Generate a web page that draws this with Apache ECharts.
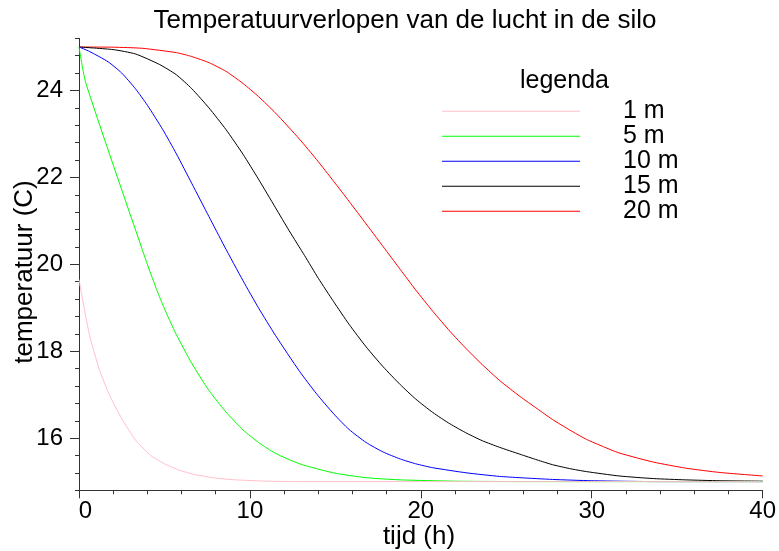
<!DOCTYPE html>
<html><head><meta charset="utf-8">
<script src="https://cdn.jsdelivr.net/npm/echarts@6/dist/echarts.min.js"></script>
<style>html,body{margin:0;padding:0;background:#fff}#c{width:779px;height:551px}</style>
</head><body><div id="c"></div>
<script>
// Data: time (h) and temperature (C) per depth
var names = ['1 m', '5 m', '10 m', '15 m', '20 m'];
var colors = ['#ffc0cb', '#00ff00', '#0000ff', '#000000', '#ff0000'];

var t1 = [0, 0.6, 1.2, 1.8, 2.5, 3.3, 4.2, 5.1, 5.9, 6.8, 8, 9.2, 11, 13, 40];
var v1 = [19.65, 18.4, 17.57, 16.98, 16.45, 15.96, 15.6, 15.39, 15.26, 15.16, 15.08, 15.04, 15.01, 15.0, 15.0];

var t5 = [0, 0.4, 3.7, 4.2, 4.7, 5.2, 5.7, 6.6, 7.6, 8.6, 9.6, 10.5, 11.5, 12.9, 14.9, 16.8, 18.8, 22, 26, 40];
var v5 = [25, 24.17, 20.34, 19.78, 19.26, 18.8, 18.38, 17.72, 17.1, 16.6, 16.19, 15.9, 15.65, 15.41, 15.2, 15.09, 15.04, 15.01, 15.0, 15.0];

var t10 = [0, 0.6, 1.7, 2.5, 3.3, 4, 4.9, 5.7, 6.6, 7.6, 8.5, 9.6, 10.5, 11.5, 12.9, 13.9, 14.9, 15.8, 16.8, 17.8, 18.8, 19.7, 20.7, 22.7, 24.6, 25.8, 27.7, 30, 34, 40];
var v10 = [25, 24.9, 24.66, 24.4, 24.04, 23.66, 23.1, 22.54, 21.86, 21.1, 20.42, 19.62, 19.0, 18.36, 17.54, 17.02, 16.56, 16.2, 15.9, 15.68, 15.52, 15.41, 15.32, 15.2, 15.12, 15.09, 15.05, 15.02, 15.0, 15.0];

var t15 = [0, 2, 3.3, 4.7, 5.7, 6.6, 7.6, 8.6, 9.6, 10.5, 11.5, 12.3, 13.2, 14, 14.9, 15.8, 16.8, 17.8, 18.8, 19.7, 20.7, 21.7, 22.7, 23.6, 24.6, 25.8, 26.8, 27.7, 28.7, 29.7, 31.6, 33.6, 35.5, 37.5, 40];
var v15 = [25, 24.94, 24.84, 24.6, 24.36, 24.04, 23.6, 23.1, 22.53, 21.96, 21.3, 20.77, 20.2, 19.68, 19.14, 18.62, 18.1, 17.64, 17.23, 16.9, 16.59, 16.33, 16.11, 15.94, 15.79, 15.63, 15.5, 15.39, 15.3, 15.23, 15.13, 15.07, 15.04, 15.02, 15.01];

var t20 = [0, 2, 3.7, 5.7, 6.6, 7.6, 8.6, 9.6, 10.5, 11.5, 12.9, 13.9, 14.9, 15.8, 16.8, 18, 18.8, 19.7, 20.7, 21.7, 22.7, 23.6, 24.6, 25.8, 26.8, 27.7, 28.7, 29.7, 30.7, 31.6, 33.6, 35.5, 37.5, 40];
var v20 = [25, 24.995, 24.97, 24.87, 24.78, 24.64, 24.44, 24.16, 23.86, 23.48, 22.88, 22.41, 21.91, 21.45, 20.93, 20.3, 19.88, 19.41, 18.92, 18.46, 18.04, 17.69, 17.33, 16.96, 16.68, 16.43, 16.19, 15.97, 15.8, 15.66, 15.45, 15.31, 15.21, 15.13];

var xTickLabels = [0, 10, 20, 30, 40];
var yTickLabels = [16, 18, 20, 22, 24];

var times = [t1, t5, t10, t15, t20];
var vals = [v1, v5, v10, v15, v20];

var FONT = "'Liberation Sans', Arial, sans-serif";
function pairs(t, v) { return t.map(function (x, i) { return [x, v[i]]; }); }

var series = names.map(function (n, i) {
  return {
    name: n, type: 'line', xAxisIndex: 0, yAxisIndex: 0,
    data: pairs(times[i], vals[i]),
    symbol: 'none', smooth: 0.2,
    lineStyle: { color: colors[i], width: 1 },
    itemStyle: { color: colors[i] },
    z: 10 - i
  };
});

var chart = echarts.init(document.getElementById('c'), null, { renderer: 'canvas' });
chart.setOption({
  animation: false,
  backgroundColor: '#fff',
  legend: {
    orient: 'vertical', left: 442, top: 98.75, padding: 0,
    icon: 'rect', itemWidth: 138, itemHeight: 1.2, itemGap: 0,
    data: names,
    textStyle: { fontFamily: FONT, fontSize: 25, color: '#000', lineHeight: 24.5, padding: [0, 0, 0, 38] }
  },
  grid: [
    { left: 79, right: 16, top: 38.3, bottom: 60.7 },
    { left: 79, right: 16, top: 90.3, bottom: 112.7 }
  ],
  xAxis: [
    {
      type: 'value', gridIndex: 0, min: 0, max: 40, interval: 10,
      axisLine: { show: true, lineStyle: { color: '#333', width: 1 } },
      axisTick: { show: true, length: 8, lineStyle: { color: '#333' } },
      minorTick: { show: true, splitNumber: 5, length: 4, lineStyle: { color: '#333' } },
      splitLine: { show: false },
      axisLabel: {
        fontFamily: FONT, fontSize: 24, color: '#000', margin: 9,
        formatter: function (v) { return v === 0 ? '{z|0}' : String(v); },
        rich: { z: { fontFamily: FONT, fontSize: 24, color: '#000', padding: [0, 0, 0, 13] } }
      }
    },
    { type: 'value', gridIndex: 1, min: 0, max: 40, show: false }
  ],
  yAxis: [
    {
      type: 'value', gridIndex: 0, min: 14.8, max: 25.2, interval: 0.4,
      axisLine: { show: true, lineStyle: { color: '#333', width: 1 } },
      axisTick: { show: true, length: 4, lineStyle: { color: '#333' } },
      splitLine: { show: false },
      axisLabel: { show: false }
    },
    {
      type: 'value', gridIndex: 1, min: 16, max: 24, interval: 2,
      axisLine: { show: false },
      axisTick: { show: true, length: 9, lineStyle: { color: '#333' } },
      splitLine: { show: false },
      axisLabel: { fontFamily: FONT, fontSize: 24, color: '#000', margin: 16 }
    }
  ],
  graphic: [
    { type: 'text', x: 405, y: 21, style: { text: 'Temperatuurverlopen van de lucht in de silo', font: '26px ' + FONT, fill: '#000', textAlign: 'center', textVerticalAlign: 'middle' } },
    { type: 'text', x: 520, y: 81, style: { text: 'legenda', font: '25px ' + FONT, fill: '#000', textAlign: 'left', textVerticalAlign: 'middle' } },
    { type: 'text', x: 419, y: 537, style: { text: 'tijd (h)', font: '26px ' + FONT, fill: '#000', textAlign: 'center', textVerticalAlign: 'middle' } },
    { type: 'text', x: 25, y: 272, rotation: Math.PI / 2, style: { text: 'temperatuur (C)', font: '26px ' + FONT, fill: '#000', textAlign: 'center', textVerticalAlign: 'middle' } }
  ],
  series: series
});
</script></body></html>
